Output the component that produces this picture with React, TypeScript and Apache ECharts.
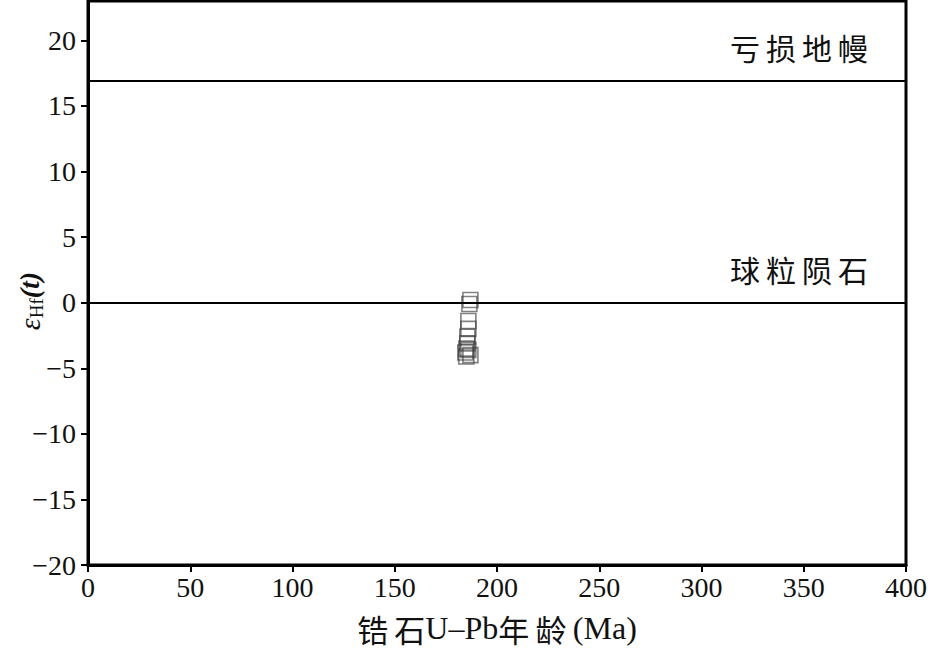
import React, { useEffect, useRef } from "react";
import * as echarts from "echarts";

const ages: number[] = [187, 186.5, 186, 186, 185.5, 185.5, 185, 184.5, 185, 187, 186];
const eHf: number[] = [0.2, -0.1, -1.4, -2.0, -2.6, -3.1, -3.5, -3.8, -4.1, -4.0, -3.6];
const refLines: { name: string; value: number }[] = [
  { name: "亏损地幔", value: 16.9 },
  { name: "球粒陨石", value: 0 },
];
const xTicks = [0, 50, 100, 150, 200, 250, 300, 350, 400];
const yTicks = [-20, -15, -10, -5, 0, 5, 10, 15, 20];

const SERIF = "Liberation Serif";
const CJK = "Noto Sans CJK SC";

export default function App() {
  const ref = useRef<HTMLDivElement>(null);
  useEffect(() => {
    if (!ref.current) return;
    const chart = echarts.init(ref.current, undefined, { renderer: "svg" });
    const fmt = (v: number) => (v < 0 ? "\u2212" + Math.abs(v) : String(v));
    chart.setOption({
      animation: false,
      backgroundColor: "#fff",
      grid: {
        left: 88,
        right: 22,
        top: 1,
        bottom: 86,
        outerBoundsMode: "none",
        containLabel: false,
        show: true,
        borderColor: "#000",
        borderWidth: 3,
        backgroundColor: "transparent",
      },
      xAxis: {
        type: "value",
        min: xTicks[0],
        max: xTicks[xTicks.length - 1],
        interval: 50,
        name: "{c|锆\u2009石}{l|U\u2013Pb}{c|年\u2009龄}{l|\u2009(Ma)}",
        nameLocation: "middle",
        nameGap: 46,
        nameMoveOverlap: false,
        nameTextStyle: {
          rich: {
            c: { fontFamily: CJK, fontSize: 31, color: "#111", lineHeight: 34 },
            l: { fontFamily: SERIF, fontSize: 32, color: "#111", lineHeight: 34 },
          },
        },
        axisLine: { show: true, onZero: false, lineStyle: { color: "#000", width: 3 } },
        axisTick: { show: true, inside: false, length: 7, lineStyle: { color: "#000", width: 2 } },
        axisLabel: { fontFamily: SERIF, fontSize: 28, color: "#111", margin: 8, formatter: fmt },
        splitLine: { show: false },
      },
      yAxis: {
        type: "value",
        min: yTicks[0],
        max: 23,
        interval: 5,
        name: "{e|ε}{s|Hf}{t|(t)}",
        nameLocation: "middle",
        nameRotate: 90,
        nameGap: 42,
        nameMoveOverlap: false,
        nameTextStyle: {
          padding: [0, 36, 0, 0],
          rich: {
            e: { fontFamily: SERIF, fontStyle: "italic", fontSize: 30, color: "#111" },
            s: { fontFamily: SERIF, fontSize: 19, color: "#111", padding: [14, 0, 0, 0] },
            t: { fontFamily: SERIF, fontStyle: "italic", fontWeight: "bold", fontSize: 28, color: "#111" },
          },
        },
        axisLine: { show: true, onZero: false, lineStyle: { color: "#000", width: 3 } },
        axisTick: { show: true, inside: false, length: 7, lineStyle: { color: "#000", width: 2 } },
        axisLabel: {
          fontFamily: SERIF,
          fontSize: 28,
          color: "#111",
          margin: 12,
          showMaxLabel: false,
          formatter: (v: number) => (yTicks.indexOf(v) >= 0 ? fmt(v) : ""),
        },
        splitLine: { show: false },
      },
      series: [
        {
          type: "scatter",
          data: ages.map((a, i) => [a, eHf[i]]),
          symbol: "rect",
          symbolSize: 15,
          itemStyle: { color: "transparent", borderColor: "rgba(60,60,60,0.8)", borderWidth: 1.6 },
          markLine: {
            silent: true,
            symbol: "none",
            lineStyle: { color: "#000", width: 2, type: "solid" },
            label: {
              show: true,
              position: "insideEndTop",
              formatter: (p: any) => p.name.split("").join("\u2009"),
              fontFamily: CJK,
              fontSize: 30,
              color: "#111",
              distance: [38, 19],
            },
            data: refLines.map((r) => ({ name: r.name, yAxis: r.value })),
          },
        },
      ],
    });
    return () => chart.dispose();
  }, []);
  return (
    <div style={{ position: "absolute", left: 0, top: 0 }}>
      <div ref={ref} style={{ width: 928, height: 651 }} />
    </div>
  );
}
